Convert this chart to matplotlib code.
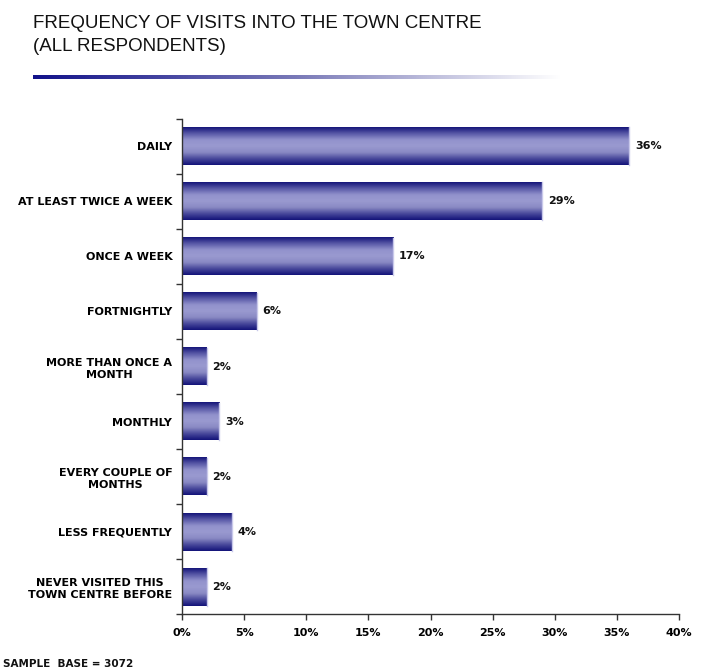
import numpy as np
import matplotlib.pyplot as plt
from matplotlib.colors import LinearSegmentedColormap

categories = [
    "DAILY",
    "AT LEAST TWICE A WEEK",
    "ONCE A WEEK",
    "FORTNIGHTLY",
    "MORE THAN ONCE A\nMONTH",
    "MONTHLY",
    "EVERY COUPLE OF\nMONTHS",
    "LESS FREQUENTLY",
    "NEVER VISITED THIS\nTOWN CENTRE BEFORE",
]
values = [36, 29, 17, 6, 2, 3, 2, 4, 2]
x_ticks = [0, 5, 10, 15, 20, 25, 30, 35, 40]

fig = plt.figure(figsize=(7.13, 6.72), dpi=100)
ax = fig.add_axes([0.2553, 0.0856, 0.697, 0.738])

n = len(categories)
ypos = np.arange(n)
bar_h = 0.68

# vertical gradient: dark edges, light middle
grad_cmap = LinearSegmentedColormap.from_list(
    "bar", ["#16167a", "#5a5aa8", "#9292cc", "#9a9ad0", "#8a8ac4", "#4a4a9c", "#14147a"])
grad = np.linspace(0, 1, 64).reshape(-1, 1)

bars = ax.barh(ypos, values, height=bar_h, color="none", edgecolor="none")
for b, v in zip(bars, values):
    x0, y0 = b.get_x(), b.get_y()
    w, h = b.get_width(), b.get_height()
    ax.imshow(grad, cmap=grad_cmap, aspect="auto", interpolation="bicubic",
              extent=[x0, x0 + w, y0 + h, y0], zorder=2)
    ax.plot([x0 + w, x0 + w], [y0, y0 + h], color="#c8c8ea", lw=1, zorder=3)
    ax.text(v + 0.45, b.get_y() + h / 2, f"{v}%", va="center", ha="left",
            fontsize=8, fontweight="bold", color="#111111")

ax.set_xlim(0, 40)
ax.set_ylim(n - 0.5, -0.5)
ax.set_xticks(x_ticks)
ax.set_xticklabels([f"{t}%" for t in x_ticks], fontsize=8, fontweight="bold")
ax.set_yticks(ypos)
ax.set_yticklabels(categories, fontsize=8, fontweight="bold", linespacing=1.3)
ax.set_yticks(np.arange(n + 1) - 0.5, minor=True)
ax.tick_params(axis="y", which="major", length=0, pad=7)
ax.tick_params(axis="y", which="minor", length=4, width=1, color="#333333")
ax.tick_params(axis="x", length=4, width=1, color="#333333", pad=6)
for lab in ax.get_yticklabels():
    lab.set_multialignment("center")
for s in ["top", "right"]:
    ax.spines[s].set_visible(False)
for s in ["left", "bottom"]:
    ax.spines[s].set_color("#333333")
    ax.spines[s].set_linewidth(1)

fig.text(0.046, 0.978, "FREQUENCY OF VISITS INTO THE TOWN CENTRE\n(ALL RESPONDENTS)",
         fontsize=13.5, family="Liberation Sans", va="top", ha="left",
         linespacing=1.5, color="#111111")

# fading rule under the title
rule = fig.add_axes([0.046, 0.882, 0.74, 0.006])
rule_cmap = LinearSegmentedColormap.from_list("rule", ["#12128a", "#7a7ab8", "#ffffff"])
rule.imshow(np.linspace(0, 1, 256).reshape(1, -1), cmap=rule_cmap, aspect="auto")
rule.axis("off")

fig.text(0.004, 0.004, "SAMPLE  BASE = 3072", fontsize=7.5, fontweight="bold",
         ha="left", va="bottom", color="#111111")

fig.savefig("out.png", dpi=100)
